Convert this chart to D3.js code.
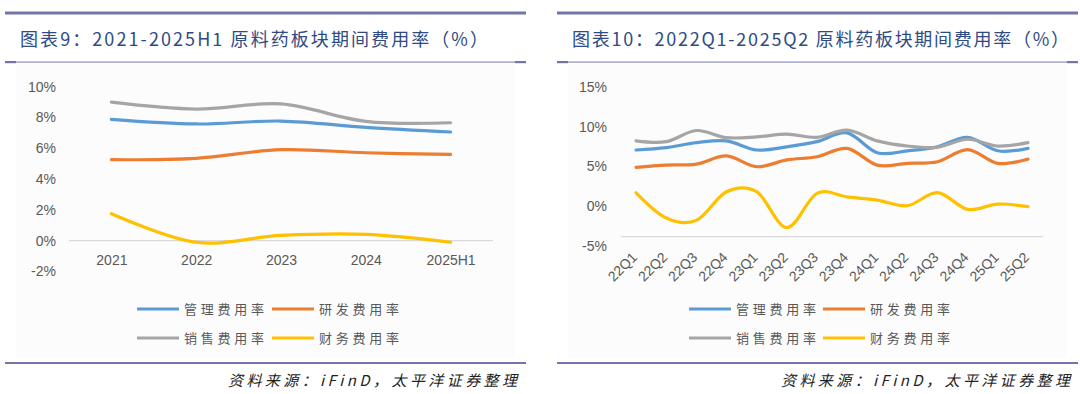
<!DOCTYPE html>
<html>
<head>
<meta charset="utf-8">
<script src="https://cdn.jsdelivr.net/npm/d3@7"></script>
<style>
  html, body { margin: 0; padding: 0; background: #fff; }
  svg { display: block; }
  text { font-family: "Liberation Sans", Arial, "Noto Sans CJK SC", sans-serif; }
  .cjk { font-family: "Noto Sans CJK SC", sans-serif; }
</style>
</head>
<body>
<svg id="chart" width="1080" height="394"></svg>
<script>
// DATA
const seriesNames = ["管理费用率", "研发费用率", "销售费用率", "财务费用率"];
const seriesColors = ["#5b9bd5", "#ed7d31", "#a5a5a5", "#ffc000"];

// figure 9 (annual)
const years = ["2021", "2022", "2023", "2024", "2025H1"];
const mgmtYear = [7.88, 7.58, 7.77, 7.36, 7.06];
const rdYear = [5.26, 5.35, 5.91, 5.71, 5.6];
const salesYear = [9.0, 8.55, 8.88, 7.75, 7.66];
const finYear = [1.75, -0.1, 0.34, 0.41, -0.1];
const yTicksYear = [-2, 0, 2, 4, 6, 8, 10];

// figure 10 (quarterly)
const quarters = ["22Q1", "22Q2", "22Q3", "22Q4", "23Q1", "23Q2", "23Q3",
  "23Q4", "24Q1", "24Q2", "24Q3", "24Q4", "25Q1", "25Q2"];
const mgmtQ = [7.05, 7.35, 7.97, 8.2, 7.05, 7.45, 8.1, 9.2, 6.7, 6.95, 7.45, 8.65, 6.95, 7.25];
const rdQ = [4.87, 5.15, 5.28, 6.3, 4.95, 5.8, 6.2, 7.25, 5.15, 5.37, 5.57, 7.1, 5.37, 5.9];
const salesQ = [8.2, 8.1, 9.5, 8.6, 8.7, 9.05, 8.65, 9.55, 8.2, 7.55, 7.4, 8.4, 7.55, 7.97];
const finQ = [1.67, -1.5, -1.8, 1.8, 1.8, -2.7, 1.6, 1.15, 0.75, 0.04, 1.68, -0.42, 0.25, -0.08];
const yTicksQ = [-5, 0, 5, 10, 15];

const sourceText = "资料来源：iFinD，太平洋证券整理";

// CANVAS SETUP
const svg = d3.select("#chart");
const ruleColor = "#7474a8";

function drawPanel(cfg) {
  const g = svg.append("g");
  const L = cfg.left, R = cfg.right;

  // plot background
  g.append("rect")
    .attr("x", L + 11).attr("y", 64)
    .attr("width", R - L - 22).attr("height", 294)
    .attr("fill", "#fcfcfc");

  // rules
  g.append("rect").attr("x", L).attr("y", 11.5).attr("width", R - L).attr("height", 3).attr("fill", ruleColor);
  g.append("rect").attr("x", L).attr("y", 61.5).attr("width", R - L).attr("height", 1.2).attr("fill", "#8c8cbc");
  g.append("rect").attr("x", L).attr("y", 61).attr("width", 11).attr("height", 2.2).attr("fill", ruleColor);
  g.append("rect").attr("x", R - 11).attr("y", 61).attr("width", 11).attr("height", 2.2).attr("fill", ruleColor);
  g.append("rect").attr("x", L).attr("y", 362).attr("width", R - L).attr("height", 2).attr("fill", ruleColor);

  // title
  g.append("text")
    .attr("class", "cjk")
    .attr("x", cfg.titleX).attr("y", 46)
    .attr("textLength", cfg.titleLen).attr("lengthAdjust", "spacing")
    .attr("font-size", 18).attr("font-weight", 400)
    .attr("fill", "#2e4b85")
    .text(cfg.title);

  // scales
  const x = d3.scalePoint().domain(cfg.cats).range(cfg.xRange).padding(0.5);
  const y = d3.scaleLinear().domain(cfg.yDomain).range(cfg.yRange);

  // baseline
  g.append("line")
    .attr("x1", cfg.xRange[0]).attr("x2", cfg.xRange[1])
    .attr("y1", y(cfg.baseValue)).attr("y2", y(cfg.baseValue))
    .attr("stroke", "#d9d9d9").attr("stroke-width", 1.3);

  // y axis
  const gy = g.append("g")
    .attr("transform", `translate(${cfg.yAxisX},0)`)
    .call(d3.axisLeft(y).tickValues(cfg.yTicks).tickSize(0).tickPadding(0)
      .tickFormat((d) => d + "%"));
  gy.select(".domain").remove();
  gy.selectAll("text").attr("font-size", 14).attr("fill", "#595959")
    .attr("font-family", "Liberation Sans, Arial, sans-serif");

  // x axis
  const gx = g.append("g")
    .attr("transform", `translate(0,${y(cfg.baseValue)})`)
    .call(d3.axisBottom(x).tickSize(0).tickPadding(cfg.rotate ? 0 : 14));
  gx.select(".domain").remove();
  const xt = gx.selectAll("text").attr("font-size", 14).attr("fill", "#595959")
    .attr("font-family", "Liberation Sans, Arial, sans-serif");
  if (cfg.rotate) {
    xt.attr("text-anchor", "end").attr("y", 0).attr("dy", "0.35em")
      .attr("transform", "translate(-2,18) rotate(-45)");
  }

  // lines
  const line = d3.line()
    .x((d, i) => x(cfg.cats[i]))
    .y((d) => y(d))
    .curve(d3.curveCardinal.tension(0));

  cfg.series.forEach((vals, k) => {
    g.append("path")
      .datum(vals)
      .attr("d", line)
      .attr("fill", "none")
      .attr("stroke", seriesColors[k])
      .attr("stroke-width", 3.2)
      .attr("stroke-linecap", "round")
      .attr("stroke-linejoin", "round");
  });

  // legend
  const leg = g.append("g");
  seriesNames.forEach((name, k) => {
    const col = k % 2, row = Math.floor(k / 2);
    const lx = cfg.legendX + col * cfg.legendStep;
    const ly = 309 + row * 29;
    leg.append("line")
      .attr("x1", lx).attr("x2", lx + 42)
      .attr("y1", ly).attr("y2", ly)
      .attr("stroke", seriesColors[k]).attr("stroke-width", 3.2);
    leg.append("text")
      .attr("class", "cjk")
      .attr("x", lx + 47).attr("y", ly + 5)
      .attr("textLength", 80).attr("lengthAdjust", "spacing")
      .attr("font-size", 13).attr("fill", "#595959")
      .text(name);
  });

  // source
  g.append("text")
    .attr("class", "cjk")
    .attr("x", cfg.sourceX).attr("y", 386)
    .attr("textLength", 289).attr("lengthAdjust", "spacing")
    .attr("font-size", 15).attr("font-style", "italic")
    .attr("fill", "#222")
    .text(sourceText);
}

drawPanel({
  left: 5, right: 526,
  title: "图表9：2021-2025H1 原料药板块期间费用率（%）",
  titleX: 20, titleLen: 468,
  cats: years, xRange: [69, 493],
  yDomain: [-2, 10], yRange: [271.5, 86.7], yTicks: yTicksYear,
  yAxisX: 56, baseValue: 0, rotate: false,
  series: [mgmtYear, rdYear, salesYear, finYear],
  legendX: 137, legendStep: 135,
  sourceX: 228
});

drawPanel({
  left: 557, right: 1078,
  title: "图表10：2022Q1-2025Q2 原料药板块期间费用率（%）",
  titleX: 572, titleLen: 497,
  cats: quarters, xRange: [621, 1043],
  yDomain: [-5, 15], yRange: [245.8, 86.8], yTicks: yTicksQ,
  yAxisX: 607, baseValue: -3.85, rotate: true,
  series: [mgmtQ, rdQ, salesQ, finQ],
  legendX: 689, legendStep: 134,
  sourceX: 781
});
</script>
</body>
</html>
